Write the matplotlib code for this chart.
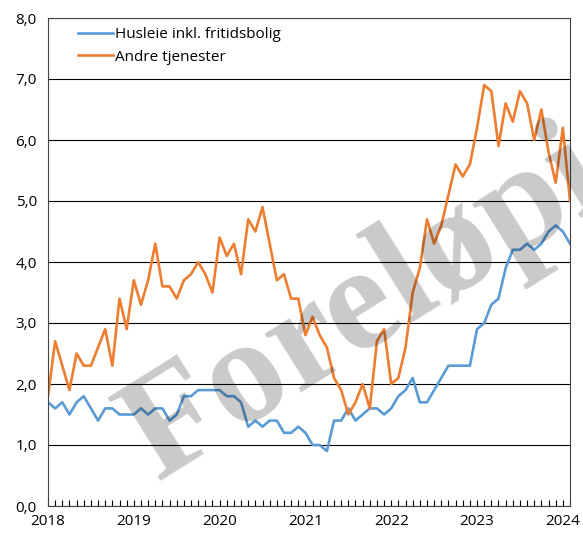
import matplotlib
matplotlib.use('Agg')
import matplotlib.pyplot as plt
import numpy as np

# monthly values jan 2018 - feb 2024
husleie = [1.7, 1.6, 1.7, 1.5, 1.7, 1.8, 1.6, 1.4, 1.6, 1.6, 1.5, 1.5,
           1.5, 1.6, 1.5, 1.6, 1.6, 1.4, 1.5, 1.8, 1.8, 1.9, 1.9, 1.9,
           1.9, 1.8, 1.8, 1.7, 1.3, 1.4, 1.3, 1.4, 1.4, 1.2, 1.2, 1.3,
           1.2, 1.0, 1.0, 0.9, 1.4, 1.4, 1.6, 1.4, 1.5, 1.6, 1.6, 1.5,
           1.6, 1.8, 1.9, 2.1, 1.7, 1.7, 1.9, 2.1, 2.3, 2.3, 2.3, 2.3,
           2.9, 3.0, 3.3, 3.4, 3.9, 4.2, 4.2, 4.3, 4.2, 4.3, 4.5, 4.6,
           4.5, 4.3]
andre = [1.8, 2.7, 2.3, 1.9, 2.5, 2.3, 2.3, 2.6, 2.9, 2.3, 3.4, 2.9,
         3.7, 3.3, 3.7, 4.3, 3.6, 3.6, 3.4, 3.7, 3.8, 4.0, 3.8, 3.5,
         4.4, 4.1, 4.3, 3.8, 4.7, 4.5, 4.9, 4.3, 3.7, 3.8, 3.4, 3.4,
         2.8, 3.1, 2.8, 2.6, 2.1, 1.9, 1.5, 1.7, 2.0, 1.6, 2.7, 2.9,
         2.0, 2.1, 2.6, 3.5, 3.9, 4.7, 4.3, 4.6, 5.1, 5.6, 5.4, 5.6,
         6.2, 6.9, 6.8, 5.9, 6.6, 6.3, 6.8, 6.6, 6.0, 6.5, 5.8, 5.3,
         6.2, 5.0]
years = ['2018', '2019', '2020', '2021', '2022', '2023', '2024']
yticks = [0, 1, 2, 3, 4, 5, 6, 7, 8]

plt.rcParams['font.family'] = ['Open Sans', 'DejaVu Sans']

fig = plt.figure(figsize=(5.83, 5.36), dpi=100)
ax = fig.add_axes([48/583, 30/536, 522/583, 488/536])

x = np.arange(len(husleie))
ax.plot(x, husleie, color='#5B9BD5', lw=1.9, label='Husleie inkl. fritidsbolig')
ax.plot(x, andre, color='#ED7D31', lw=1.9, label='Andre tjenester')

ax.set_xlim(0, len(husleie) - 1)
ax.set_ylim(0, 8)
ax.set_yticks(yticks)
ax.set_yticklabels([('%.1f' % v).replace('.', ',') for v in yticks], fontsize=11)
ax.set_xticks(np.arange(0, 73, 12))
ax.set_xticklabels(years, fontsize=11)
ax.set_xticks(np.arange(0, len(husleie)), minor=True)
ax.tick_params(axis='y', length=0, pad=8)
ax.tick_params(axis='x', which='both', direction='in', length=4, width=0.8, pad=6)
ax.grid(axis='y', color='black', lw=0.8)
for s in ax.spines.values():
    s.set_color('#444444')
    s.set_linewidth(0.8)

ax.legend(loc='upper left', bbox_to_anchor=(0.04, 1.0), frameon=False, fontsize=11,
          handlelength=2.3, handletextpad=0.1, labelspacing=0.5, borderaxespad=0.2)

# watermark
fig.text(0.683, 0.463, 'Foreløpig', family='Liberation Serif', weight='bold', fontsize=108,
         color='black', alpha=0.21, rotation=32, ha='center', va='center',
         rotation_mode='anchor')

fig.savefig('out.png', dpi=100)
